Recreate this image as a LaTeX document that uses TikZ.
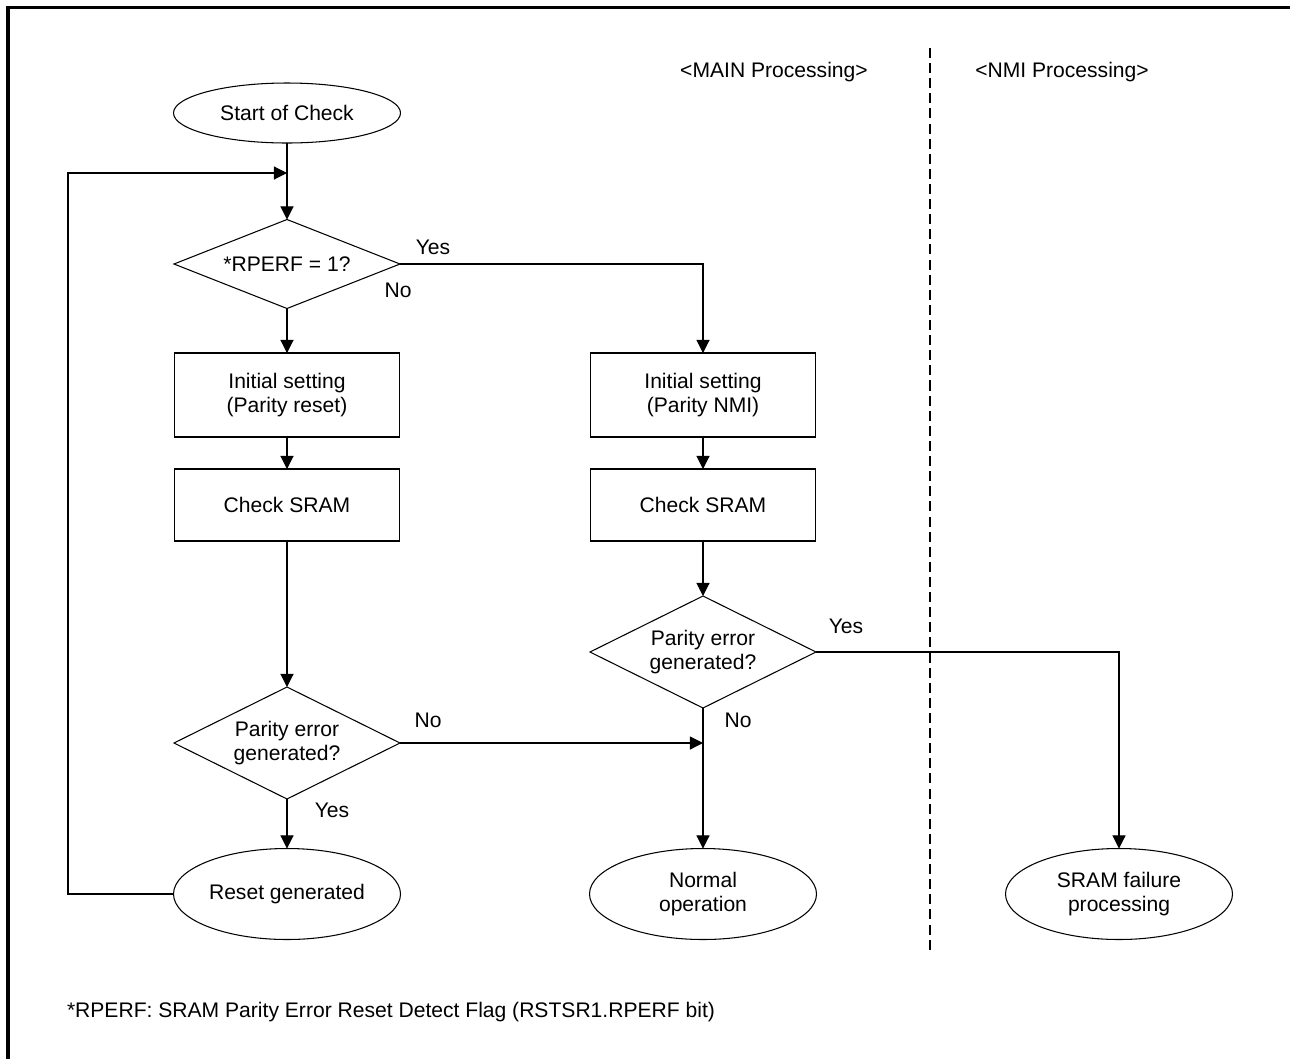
\documentclass[tikz,border=0pt]{standalone}
\usepackage{fontspec}
\setmainfont{Liberation Sans}
\usepackage{tikz}
\usetikzlibrary{positioning, arrows.meta, shapes.geometric}

\begin{document}
\begin{tikzpicture}[
  every node/.style={font=\fontsize{12}{13.8}\selectfont, inner sep=0pt, outer sep=0pt, align=center},
  terminal/.style={draw, line width=0.6pt, ellipse, minimum width=4.54cm, minimum height=1.82cm},
  process/.style={draw, line width=0.6pt, rectangle, minimum width=4.5cm},
  decision/.style={draw, line width=0.6pt, diamond, aspect=2, minimum width=4.52cm, minimum height=2.24cm},
  lbl/.style={anchor=center},
  arr/.style={-{Triangle[length=7.5pt, width=7.5pt]}, line width=0.6pt},
  frame/.style={line width=2pt, line join=miter},
  divider/.style={line width=1.1pt, dash pattern=on 5.7pt off 2.9pt}
]
  \useasboundingbox (0,0) rectangle (25.8,-21.18);
  \draw[frame] (0.16,-21.18) -- (0.16,-0.15) -- (25.8,-0.15);

  % Headings and divider
  \node (mainhd) at (15.48,-1.44) {<MAIN Processing>};
  \node (nmihd) at (21.24,-1.44) {<NMI Processing>};
  \draw[divider] (18.6,-0.96) -- (18.6,-19.04);

  % Left column: parity reset
  \node[terminal, minimum height=1.2cm] (start) at (5.74,-2.26) {Start of Check};
  \node[decision, aspect=2.5, minimum height=1.78cm] (rperf) at (5.74,-5.28) {*RPERF = 1?};
  \node[process, minimum height=1.68cm] (initrst) at (5.74,-7.90) {Initial setting\\(Parity reset)};
  \node[process, minimum height=1.44cm] (chkrst) at (5.74,-10.10) {Check SRAM};
  \node[decision] (errrst) at (5.74,-14.86) {Parity error\\generated?};
  \node[terminal] (reset) at (5.74,-17.88) {Reset generated};

  % Middle column: parity NMI
  \node[process, minimum height=1.68cm] (initnmi) at (14.06,-7.90) {Initial setting\\(Parity NMI)};
  \node[process, minimum height=1.44cm] (chknmi) at (14.06,-10.10) {Check SRAM};
  \node[decision] (errnmi) at (14.06,-13.04) {Parity error\\generated?};
  \node[terminal] (normal) at (14.06,-17.88) {Normal\\operation};

  % Right column: NMI handler
  \node[terminal] (fail) at (22.38,-17.88) {SRAM failure\\processing};

  % Helper points
  \coordinate (loop) at (1.36,-3.46);
  \coordinate (join) at (5.74,-3.46);
  \coordinate (merge) at (14.06,-14.86);

  % Connections: left
  \draw[arr] (start) -- (rperf);
  \draw[arr] (rperf) -- (initrst);
  \draw[arr] (initrst) -- (chkrst);
  \draw[arr] (chkrst) -- (errrst);
  \draw[arr] (errrst) -- (reset);
  \draw[arr] (reset.west) -| (loop) -- (join);

  % Connections: middle and right
  \draw[arr] (rperf.east) -| (initnmi.north);
  \draw[arr] (initnmi) -- (chknmi);
  \draw[arr] (chknmi) -- (errnmi);
  \draw[arr] (errnmi) -- (normal);
  \draw[arr] (errrst.east) -- (merge);
  \draw[arr] (errnmi.east) -| (fail.north);

  % Branch labels
  \node[lbl] (yes1) at (8.66,-4.94) {Yes};
  \node[lbl] (no1) at (7.96,-5.80) {No};
  \node[lbl] (no2) at (8.56,-14.40) {No};
  \node[lbl] (yes2) at (6.64,-16.20) {Yes};
  \node[lbl] (no3) at (14.76,-14.40) {No};
  \node[lbl] (yes3) at (16.92,-12.52) {Yes};

  % Footnote
  \node[anchor=west] (note) at (1.34,-20.24) {*RPERF: SRAM Parity Error Reset Detect Flag (RSTSR1.RPERF bit)};
\end{tikzpicture}
\end{document}
